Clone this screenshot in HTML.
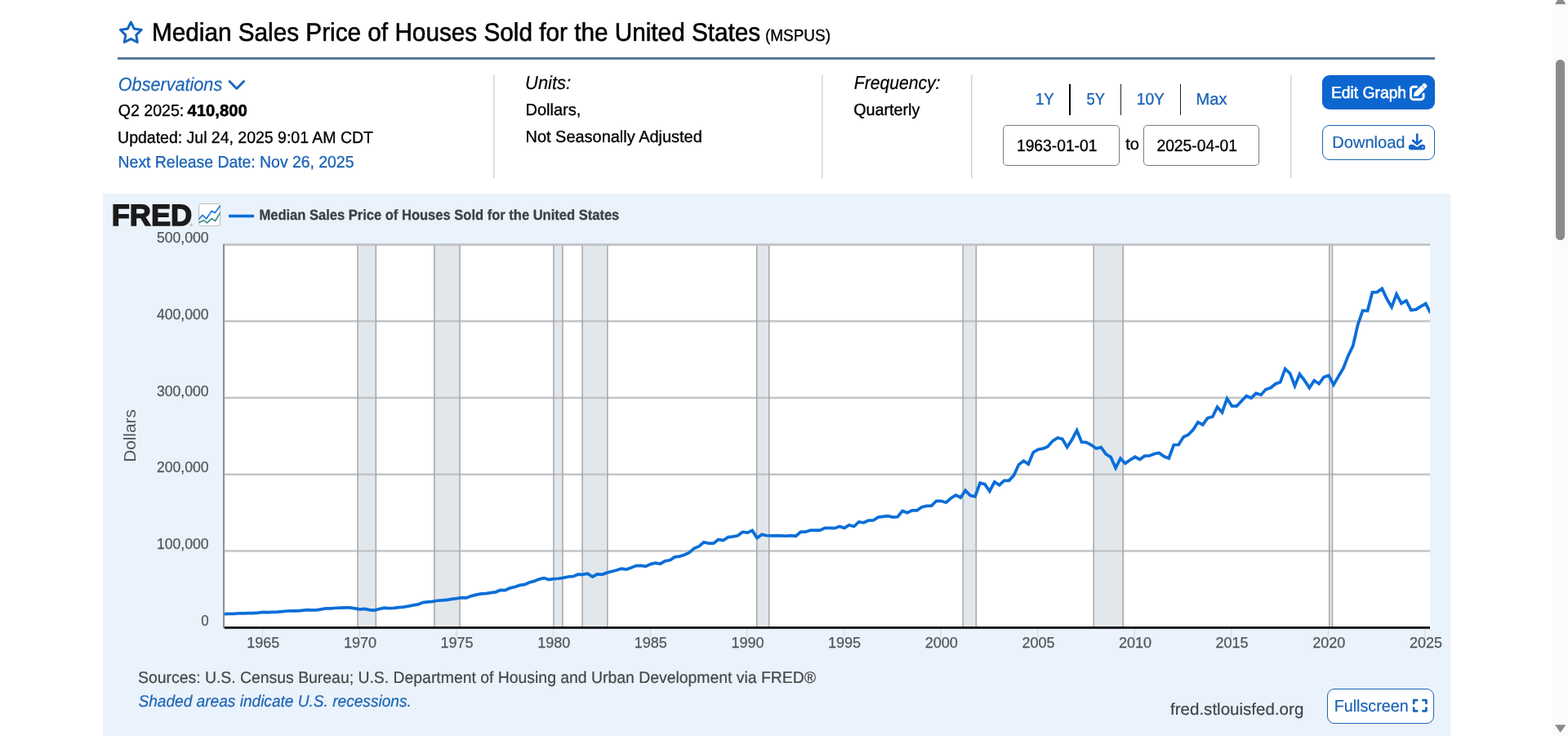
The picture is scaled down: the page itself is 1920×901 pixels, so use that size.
<!DOCTYPE html>
<html lang="en"><head><meta charset="utf-8"><title>Median Sales Price of Houses Sold for the United States (MSPUS) | FRED | St. Louis Fed</title>
<style>
html,body{margin:0;padding:0;}
body{width:1920px;height:901px;overflow:hidden;background:#fff;font-family:"Liberation Sans", sans-serif;position:relative;}
.t{position:absolute;left:0;top:0;white-space:nowrap;transform-origin:0 0;display:block;text-rendering:geometricPrecision;}
.abs{position:absolute;box-sizing:border-box;}
.vr{position:absolute;top:92px;height:126px;width:2px;background:linear-gradient(to right,#c8d6d8 50%,#e3ebec 50%);}
.sep{position:absolute;top:103px;height:38px;width:0;border-left:1.4px solid #222;}
</style></head><body>
<main>
<header id="series-header">
<svg style="position:absolute;left:144px;top:24px" width="33" height="32" viewBox="0 0 33 32"><path d="M16.30 3.15 L20.30 11.25 L29.23 12.55 L22.77 18.85 L24.29 27.75 L16.30 23.55 L8.31 27.75 L9.83 18.85 L3.37 12.55 L12.30 11.25 Z" fill="none" stroke="#1565c0" stroke-width="3" stroke-linejoin="round"/></svg>
<h1 style="margin:0;font-weight:normal;font-size:inherit"><span class="t" style="font-size:31.24px;line-height:37px;color:#000;transform:translate(185.95px,21.0px) scale(0.9518,1);-webkit-text-stroke:0.58px #000;">Median Sales Price of Houses Sold for the United States</span><span class="t" style="font-size:20.20px;line-height:24px;color:#000;transform:translate(937.04px,31.5px) scale(0.9374,1);-webkit-text-stroke:0.34px #000;">(MSPUS)</span></h1>
<div class="abs" style="left:144px;top:70px;width:1613px;height:3px;background:#587a98"></div>
</header>
<section id="series-meta">
<a><span class="t" style="font-size:22.96px;line-height:28px;color:#1c64b6;transform:translate(144.77px,89.0px) scale(0.9424,1);font-style:italic;-webkit-text-stroke:0.21px #1c64b6;">Observations</span></a><svg style="position:absolute;left:277px;top:95px" width="26" height="18" viewBox="0 0 26 18"><path d="M4 4.6 L12.8 13.4 L21.6 4.6" fill="none" stroke="#1b66b9" stroke-width="2.8" stroke-linecap="round" stroke-linejoin="round"/></svg>
<span class="t" style="font-size:20.20px;line-height:24px;color:#000;transform:translate(144.79px,124.0px) scale(0.9686,1);-webkit-text-stroke:0.33px #000;">Q2 2025:</span>
<span class="t" style="font-size:19.94px;line-height:24px;color:#000;transform:translate(229.55px,124.0px) scale(1.0156,1);font-weight:bold;-webkit-text-stroke:0.49px #000;">410,800</span>
<span class="t" style="font-size:20.20px;line-height:24px;color:#000;transform:translate(144.11px,156.75px) scale(0.9647,1);-webkit-text-stroke:0.33px #000;">Updated: Jul 24, 2025 9:01 AM CDT</span>
<span class="t" style="font-size:20.20px;line-height:24px;color:#1c64b6;transform:translate(144.62px,187.0px) scale(0.9603,1);-webkit-text-stroke:0.33px #1c64b6;">Next Release Date: Nov 26, 2025</span>
<span class="t" style="font-size:22.96px;line-height:28px;color:#000;transform:translate(643.08px,87.0px) scale(0.9534,1);font-style:italic;-webkit-text-stroke:0.21px #000;">Units:</span>
<span class="t" style="font-size:20.20px;line-height:24px;color:#000;transform:translate(643.47px,123.0px) scale(0.9918,1);-webkit-text-stroke:0.32px #000;">Dollars,</span>
<span class="t" style="font-size:20.20px;line-height:24px;color:#000;transform:translate(643.48px,156.0px) scale(0.9885,1);-webkit-text-stroke:0.32px #000;">Not Seasonally Adjusted</span>
<span class="t" style="font-size:22.96px;line-height:28px;color:#000;transform:translate(1045.76px,87.0px) scale(0.9207,1);font-style:italic;-webkit-text-stroke:0.22px #000;">Frequency:</span>
<span class="t" style="font-size:20.20px;line-height:24px;color:#000;transform:translate(1045.28px,123.0px) scale(0.9757,1);-webkit-text-stroke:0.33px #000;">Quarterly</span>
<div class="vr" style="left:604px"></div>
<div class="vr" style="left:1006px"></div>
<div class="vr" style="left:1189px"></div>
<div class="vr" style="left:1580px"></div>
<nav>
<a><span class="t" style="font-size:20.20px;line-height:24px;color:#1c64b6;transform:translate(1267.98px,110.0px) scale(0.9188,1);-webkit-text-stroke:0.35px #1c64b6;">1Y</span></a>
<a><span class="t" style="font-size:20.20px;line-height:24px;color:#1c64b6;transform:translate(1330.53px,110.0px) scale(0.9084,1);-webkit-text-stroke:0.35px #1c64b6;">5Y</span></a>
<a><span class="t" style="font-size:20.20px;line-height:24px;color:#1c64b6;transform:translate(1391.73px,110.0px) scale(0.9519,1);-webkit-text-stroke:0.34px #1c64b6;">10Y</span></a>
<a><span class="t" style="font-size:20.20px;line-height:24px;color:#1c64b6;transform:translate(1464.57px,110.0px) scale(0.9950,1);-webkit-text-stroke:0.32px #1c64b6;">Max</span></a>
<div class="sep" style="left:1309px;border-left-width:2.4px;border-color:#000"></div>
<div class="sep" style="left:1372px"></div>
<div class="sep" style="left:1445px"></div>
</nav>
<div class="abs" style="left:1228px;top:153px;width:143px;height:50px;border:1.3px solid #7e7e7e;border-radius:5px;background:#fff"></div>
<div class="abs" style="left:1400px;top:153px;width:142px;height:50px;border:1.3px solid #7e7e7e;border-radius:5px;background:#fff"></div>
<span class="t" style="font-size:20.20px;line-height:24px;color:#000;transform:translate(1244.93px,167.0px) scale(0.9542,1);-webkit-text-stroke:0.34px #000;">1963-01-01</span><span class="t" style="font-size:20.20px;line-height:24px;color:#000;transform:translate(1378.26px,164.5px) scale(0.9916,1);-webkit-text-stroke:0.32px #000;">to</span><span class="t" style="font-size:20.20px;line-height:24px;color:#000;transform:translate(1416.40px,167.0px) scale(0.9554,1);-webkit-text-stroke:0.33px #000;">2025-04-01</span>
<div class="abs" style="left:1619px;top:92px;width:138px;height:42px;border-radius:9px;background:#0c66cf"></div>
<span class="t" style="font-size:19.94px;line-height:24px;color:#fff;transform:translate(1629.90px,102.0px) scale(0.9672,1);-webkit-text-stroke:0.52px #fff;">Edit Graph</span><svg style="position:absolute;left:1725px;top:101px" width="26" height="26" viewBox="0 0 26 26"><path d="M9.6 5.2 H5.5 a3 3 0 0 0 -3 3 V17.7 a3 3 0 0 0 3 3 H15.1 a3 3 0 0 0 3 -3 V14.1" fill="none" stroke="#fff" stroke-width="2.9" stroke-linecap="round"/><path d="M6.22 16.69 L7.21 12.16 L15.34 4.03 L19.45 8.13 L11.31 16.26 Z" fill="#fff" stroke="#fff" stroke-width="0.6" stroke-linejoin="round"/><path d="M15.84 3.54 L18.10 1.27 L18.95 0.85 L19.94 1.13 L22.34 3.54 L22.63 4.53 L22.20 5.37 L19.94 7.64 Z" fill="#fff"/></svg>
<div class="abs" style="left:1619px;top:153px;width:138px;height:42.5px;border-radius:9px;background:#fff;border:1.3px solid #1c64b6"></div>
<span class="t" style="font-size:20.38px;line-height:24px;color:#1c64b6;transform:translate(1631.22px,163.0px) scale(0.9865,1);-webkit-text-stroke:0.20px #1c64b6;">Download</span><svg style="position:absolute;left:1724px;top:162px" width="24" height="23" viewBox="0 0 24 23"><path d="M11.2 2.6 V13.6 M6.1 9.9 L11.2 14.6 L16.3 9.9" fill="none" stroke="#1166cc" stroke-width="2.7" stroke-linecap="round" stroke-linejoin="round"/><path d="M3.4 15 H6.4 L11.2 18 L16 15 H18.6 a2.5 2.5 0 0 1 2.5 2.5 v1.4 a2.5 2.5 0 0 1 -2.5 2.5 H3.4 a2.5 2.5 0 0 1 -2.5 -2.5 v-1.4 a2.5 2.5 0 0 1 2.5 -2.5 z" fill="#1166cc"/><circle cx="18" cy="18.3" r="0.85" fill="#fff"/></svg>
</section>
<section id="graph">
<svg class="chart" width="1650" height="664" viewBox="126 237 1650 664" style="position:absolute;left:126px;top:237px;font-family:&quot;Liberation Sans&quot;, sans-serif">
<rect x="126" y="237" width="1650" height="664" fill="#eaf2fb"/>
<rect x="274.0" y="299.50" width="1477.0" height="468.75" fill="#fff"/>
<rect x="438.00" y="299.50" width="22.30" height="468.75" fill="#e2e7ec"/>
<rect x="531.85" y="299.50" width="31.15" height="468.75" fill="#e2e7ec"/>
<rect x="677.90" y="299.50" width="11.05" height="468.75" fill="#e2e7ec"/>
<rect x="713.05" y="299.50" width="30.80" height="468.75" fill="#e2e7ec"/>
<rect x="926.70" y="299.50" width="15.00" height="468.75" fill="#e2e7ec"/>
<rect x="1179.20" y="299.50" width="16.10" height="468.75" fill="#e2e7ec"/>
<rect x="1339.20" y="299.50" width="36.00" height="468.75" fill="#e2e7ec"/>
<rect x="1627.70" y="299.50" width="3.80" height="468.75" fill="#e2e7ec"/>
<line x1="274.0" x2="1751.0" y1="674.50" y2="674.50" stroke="#c3c4c6" stroke-width="2.5"/>
<line x1="274.0" x2="1751.0" y1="580.75" y2="580.75" stroke="#c3c4c6" stroke-width="2.5"/>
<line x1="274.0" x2="1751.0" y1="487.00" y2="487.00" stroke="#c3c4c6" stroke-width="2.5"/>
<line x1="274.0" x2="1751.0" y1="393.25" y2="393.25" stroke="#c3c4c6" stroke-width="2.5"/>
<rect x="273.0" y="298" width="1478.0" height="3" fill="#c4c6c9"/>
<line x1="438.00" x2="438.00" y1="300.50" y2="768.25" stroke="#a4a6a9" stroke-width="1.5"/>
<line x1="460.30" x2="460.30" y1="300.50" y2="768.25" stroke="#a4a6a9" stroke-width="1.5"/>
<line x1="531.85" x2="531.85" y1="300.50" y2="768.25" stroke="#a4a6a9" stroke-width="1.5"/>
<line x1="563.00" x2="563.00" y1="300.50" y2="768.25" stroke="#a4a6a9" stroke-width="1.5"/>
<line x1="677.90" x2="677.90" y1="300.50" y2="768.25" stroke="#a4a6a9" stroke-width="1.5"/>
<line x1="688.95" x2="688.95" y1="300.50" y2="768.25" stroke="#a4a6a9" stroke-width="1.5"/>
<line x1="713.05" x2="713.05" y1="300.50" y2="768.25" stroke="#a4a6a9" stroke-width="1.5"/>
<line x1="743.85" x2="743.85" y1="300.50" y2="768.25" stroke="#a4a6a9" stroke-width="1.5"/>
<line x1="926.70" x2="926.70" y1="300.50" y2="768.25" stroke="#a4a6a9" stroke-width="1.5"/>
<line x1="941.70" x2="941.70" y1="300.50" y2="768.25" stroke="#a4a6a9" stroke-width="1.5"/>
<line x1="1179.20" x2="1179.20" y1="300.50" y2="768.25" stroke="#a4a6a9" stroke-width="1.5"/>
<line x1="1195.30" x2="1195.30" y1="300.50" y2="768.25" stroke="#a4a6a9" stroke-width="1.5"/>
<line x1="1339.20" x2="1339.20" y1="300.50" y2="768.25" stroke="#a4a6a9" stroke-width="1.5"/>
<line x1="1375.20" x2="1375.20" y1="300.50" y2="768.25" stroke="#a4a6a9" stroke-width="1.5"/>
<line x1="1627.70" x2="1627.70" y1="300.50" y2="768.25" stroke="#a4a6a9" stroke-width="1.5"/>
<line x1="1631.50" x2="1631.50" y1="300.50" y2="768.25" stroke="#a4a6a9" stroke-width="1.5"/>
<line x1="321.49" x2="321.49" y1="768.25" y2="780.25" stroke="#d3dbe6" stroke-width="1.25"/>
<line x1="440.11" x2="440.11" y1="768.25" y2="780.25" stroke="#d3dbe6" stroke-width="1.25"/>
<line x1="558.73" x2="558.73" y1="768.25" y2="780.25" stroke="#d3dbe6" stroke-width="1.25"/>
<line x1="677.36" x2="677.36" y1="768.25" y2="780.25" stroke="#d3dbe6" stroke-width="1.25"/>
<line x1="796.04" x2="796.04" y1="768.25" y2="780.25" stroke="#d3dbe6" stroke-width="1.25"/>
<line x1="914.67" x2="914.67" y1="768.25" y2="780.25" stroke="#d3dbe6" stroke-width="1.25"/>
<line x1="1033.29" x2="1033.29" y1="768.25" y2="780.25" stroke="#d3dbe6" stroke-width="1.25"/>
<line x1="1151.91" x2="1151.91" y1="768.25" y2="780.25" stroke="#d3dbe6" stroke-width="1.25"/>
<line x1="1270.60" x2="1270.60" y1="768.25" y2="780.25" stroke="#d3dbe6" stroke-width="1.25"/>
<line x1="1389.22" x2="1389.22" y1="768.25" y2="780.25" stroke="#d3dbe6" stroke-width="1.25"/>
<line x1="1507.84" x2="1507.84" y1="768.25" y2="780.25" stroke="#d3dbe6" stroke-width="1.25"/>
<line x1="1626.47" x2="1626.47" y1="768.25" y2="780.25" stroke="#d3dbe6" stroke-width="1.25"/>
<line x1="1745.15" x2="1745.15" y1="768.25" y2="780.25" stroke="#d3dbe6" stroke-width="1.25"/>
<clipPath id="plotclip"><rect x="274.0" y="290" width="1477.0" height="480"/></clipPath>
<polyline clip-path="url(#plotclip)" points="274.60,751.56 280.45,751.38 286.36,751.47 292.33,750.91 298.31,750.91 304.22,750.53 310.13,750.53 316.11,750.06 322.09,749.31 327.93,749.69 333.85,749.31 339.82,749.22 345.80,748.56 351.65,748.00 357.56,747.91 363.53,747.91 369.51,747.34 375.36,746.69 381.27,746.97 387.25,746.78 393.22,745.84 399.13,744.91 405.05,744.81 411.02,744.25 417.00,744.16 422.85,743.97 428.76,743.97 434.73,744.91 440.71,745.84 446.56,745.38 452.47,746.69 458.45,747.06 464.42,745.47 470.27,744.06 476.18,744.53 482.16,744.34 488.13,743.69 494.05,743.12 499.96,742.09 505.93,740.88 511.91,739.94 517.76,737.59 523.67,736.84 529.64,736.38 535.62,735.25 541.47,734.88 547.38,734.31 553.36,733.28 559.33,732.53 565.18,731.69 571.09,731.88 577.07,729.62 583.04,728.12 588.96,726.81 594.87,726.62 600.84,725.59 606.82,724.84 612.67,722.41 618.58,722.50 624.56,719.88 630.53,718.56 636.38,716.41 642.29,715.66 648.27,712.94 654.24,711.44 660.09,709.09 666.00,707.59 671.98,709.56 677.96,708.53 683.87,708.25 689.78,707.41 695.76,706.00 701.73,705.62 707.58,703.19 713.49,703.38 719.47,702.25 725.44,706.00 731.29,703.00 737.20,703.28 743.18,701.12 749.16,699.53 755.00,698.03 760.91,696.06 766.89,697.09 772.87,694.94 778.78,692.59 784.69,692.31 790.67,693.34 796.64,690.62 802.49,689.22 808.40,690.25 814.38,686.88 820.35,685.75 826.20,681.91 832.11,681.06 838.09,679.19 844.07,676.47 849.91,671.31 855.82,668.88 861.80,663.72 867.78,665.12 873.69,665.12 879.60,660.44 885.58,661.47 891.55,657.62 897.40,656.78 903.31,655.75 909.29,651.25 915.27,652.09 921.11,649.38 927.02,658.56 933.00,654.34 938.98,655.75 944.82,655.84 950.74,655.75 956.71,655.84 962.69,656.22 968.60,655.75 974.51,656.22 980.49,651.06 986.47,651.06 992.31,649.19 998.22,649.19 1004.20,649.19 1010.18,646.38 1016.02,646.38 1021.93,646.66 1027.91,644.50 1033.89,646.38 1039.73,642.72 1045.65,644.50 1051.62,638.88 1057.60,639.81 1063.51,637.09 1069.42,637.00 1075.40,633.16 1081.38,632.31 1087.22,631.56 1093.13,633.06 1099.11,632.78 1105.09,625.56 1110.93,627.72 1116.85,624.81 1122.82,624.81 1128.80,620.69 1134.65,619.47 1140.56,619.09 1146.53,613.28 1152.51,613.28 1158.42,615.25 1164.33,610.00 1170.31,606.16 1176.29,609.06 1182.13,600.44 1188.05,606.53 1194.02,607.84 1200.00,591.34 1205.85,592.75 1211.76,601.28 1217.73,590.03 1223.71,593.88 1229.56,588.44 1235.47,588.34 1241.45,581.88 1247.42,568.84 1253.33,564.25 1259.25,568.09 1265.22,553.75 1271.20,550.28 1277.04,549.16 1282.96,546.62 1288.93,539.88 1294.91,536.03 1300.76,537.34 1306.67,547.38 1312.64,538.19 1318.62,526.94 1324.47,541.19 1330.38,541.56 1336.36,544.75 1342.33,548.97 1348.24,547.66 1354.16,555.91 1360.13,559.66 1366.11,572.88 1371.96,561.16 1377.87,567.34 1383.84,562.94 1389.82,559.28 1395.67,562.47 1401.58,558.16 1407.56,557.97 1413.53,555.53 1419.38,554.41 1425.29,558.72 1431.27,560.97 1437.24,544.75 1443.16,544.47 1449.07,535.00 1455.04,532.28 1461.02,526.00 1466.87,516.91 1472.78,520.00 1478.76,511.75 1484.73,510.25 1490.58,498.25 1496.49,504.81 1502.47,488.03 1508.44,497.12 1514.29,497.22 1520.20,490.94 1526.18,484.66 1532.15,487.19 1538.07,481.38 1543.98,483.44 1549.95,476.78 1555.93,474.72 1561.78,469.94 1567.69,467.78 1573.67,451.47 1579.64,457.19 1585.49,472.38 1591.40,458.03 1597.38,465.62 1603.35,474.81 1609.20,465.91 1615.11,469.75 1621.09,461.59 1627.07,459.81 1632.98,470.97 1638.89,460.84 1644.87,450.81 1650.84,435.44 1656.69,423.44 1662.60,397.75 1668.58,380.13 1674.55,380.59 1680.40,357.91 1686.31,357.62 1692.29,353.31 1698.27,366.06 1704.11,375.91 1710.02,360.06 1716.00,371.50 1721.98,368.12 1727.89,379.66 1733.80,378.91 1739.78,375.16 1745.75,371.59 1751.60,383.13" fill="none" stroke="#0b6ed8" stroke-width="3.75" stroke-linejoin="miter" stroke-miterlimit="4" stroke-linecap="butt"/>
<line x1="274.8" x2="1751.0" y1="768.35" y2="768.35" stroke="#000" stroke-width="2.6"/>
<line x1="274.0" x2="274.0" y1="299.00" y2="769.35" stroke="#8c8e8f" stroke-width="2"/>
<line x1="280" x2="311" y1="264.5" y2="264.5" stroke="#0b6ed8" stroke-width="3.6"/>
<text x="246.2" y="766.0" textLength="9.4" lengthAdjust="spacingAndGlyphs" font-size="18" fill="#51565b" stroke="#51565b" stroke-width="0.25">0</text>
<text x="192.0" y="672.2" textLength="63.6" lengthAdjust="spacingAndGlyphs" font-size="18" fill="#51565b" stroke="#51565b" stroke-width="0.25">100,000</text>
<text x="192.0" y="577.6" textLength="63.6" lengthAdjust="spacingAndGlyphs" font-size="18" fill="#51565b" stroke="#51565b" stroke-width="0.25">200,000</text>
<text x="192.0" y="484.7" textLength="63.6" lengthAdjust="spacingAndGlyphs" font-size="18" fill="#51565b" stroke="#51565b" stroke-width="0.25">300,000</text>
<text x="192.0" y="390.9" textLength="63.6" lengthAdjust="spacingAndGlyphs" font-size="18" fill="#51565b" stroke="#51565b" stroke-width="0.25">400,000</text>
<text x="192.0" y="297.2" textLength="63.6" lengthAdjust="spacingAndGlyphs" font-size="18" fill="#51565b" stroke="#51565b" stroke-width="0.25">500,000</text>
<text x="322.3" y="793.3" text-anchor="middle" font-size="18" fill="#51565b" stroke="#51565b" stroke-width="0.25">1965</text>
<text x="440.9" y="793.3" text-anchor="middle" font-size="18" fill="#51565b" stroke="#51565b" stroke-width="0.25">1970</text>
<text x="559.5" y="793.3" text-anchor="middle" font-size="18" fill="#51565b" stroke="#51565b" stroke-width="0.25">1975</text>
<text x="678.2" y="793.3" text-anchor="middle" font-size="18" fill="#51565b" stroke="#51565b" stroke-width="0.25">1980</text>
<text x="796.8" y="793.3" text-anchor="middle" font-size="18" fill="#51565b" stroke="#51565b" stroke-width="0.25">1985</text>
<text x="915.5" y="793.3" text-anchor="middle" font-size="18" fill="#51565b" stroke="#51565b" stroke-width="0.25">1990</text>
<text x="1034.1" y="793.3" text-anchor="middle" font-size="18" fill="#51565b" stroke="#51565b" stroke-width="0.25">1995</text>
<text x="1152.7" y="793.3" text-anchor="middle" font-size="18" fill="#51565b" stroke="#51565b" stroke-width="0.25">2000</text>
<text x="1271.4" y="793.3" text-anchor="middle" font-size="18" fill="#51565b" stroke="#51565b" stroke-width="0.25">2005</text>
<text x="1390.0" y="793.3" text-anchor="middle" font-size="18" fill="#51565b" stroke="#51565b" stroke-width="0.25">2010</text>
<text x="1508.6" y="793.3" text-anchor="middle" font-size="18" fill="#51565b" stroke="#51565b" stroke-width="0.25">2015</text>
<text x="1627.3" y="793.3" text-anchor="middle" font-size="18" fill="#51565b" stroke="#51565b" stroke-width="0.25">2020</text>
<text x="1746.0" y="793.3" text-anchor="middle" font-size="18" fill="#51565b" stroke="#51565b" stroke-width="0.25">2025</text>
<text transform="translate(166.2,533.5) rotate(-90)" text-anchor="middle" font-size="20.8" fill="#51565b">Dollars</text>
</svg>
<span class="t" style="font-size:36.60px;line-height:44px;color:#1c1a1a;transform:translate(136.69px,242.0px) scale(0.9888,1);font-weight:bold;-webkit-text-stroke:1.52px #1c1a1a;">FRED</span><span class="t" style="font-size:4.60px;line-height:6px;color:#6b6b6b;transform:translate(232.40px,273.0px) scale(0.9412,1);">®</span>
<svg style="position:absolute;left:243px;top:249px" width="28" height="29" viewBox="0 0 28 29"><rect x="0.6" y="0.5" width="26" height="26.9" rx="2.6" fill="#fff" stroke="#b9bbbf" stroke-width="1"/><path d="M0.6 19.4 L5 14.3 L9.7 18.9 L16.1 9.2 L20.3 11.6 L26.6 2.9" fill="none" stroke="#2478d4" stroke-width="1.7" stroke-linejoin="round"/><path d="M0.6 23.5 L6.5 20.7 L10.5 23.8 L16.3 18.7 L20.5 21.6 L26.6 11.5" fill="none" stroke="#338e80" stroke-width="1.6" stroke-linejoin="round"/></svg>
<span class="t" style="font-size:17.65px;line-height:21px;color:#3d4145;transform:translate(317.42px,252.5px) scale(0.9370,1);font-weight:bold;-webkit-text-stroke:0.32px #3d4145;">Median Sales Price of Houses Sold for the United States</span>
<span class="t" style="font-size:19.86px;line-height:24px;color:#444648;transform:translate(169.02px,818.0px) scale(0.9763,1);-webkit-text-stroke:0.20px #444648;">Sources: U.S. Census Bureau; U.S. Department of Housing and Urban Development via FRED®</span>
<span class="t" style="font-size:19.86px;line-height:24px;color:#1c64b6;transform:translate(169.42px,846.5px) scale(0.9616,1);font-style:italic;-webkit-text-stroke:0.21px #1c64b6;">Shaded areas indicate U.S. recessions.</span>
<span class="t" style="font-size:20.38px;line-height:24px;color:#41464c;transform:translate(1433.00px,857.0px) scale(1.0091,1);-webkit-text-stroke:0.20px #41464c;">fred.stlouisfed.org</span>
<div class="abs" style="left:1625.3px;top:843px;width:130.4px;height:42.7px;border-radius:9px;background:#fff;border:1.3px solid #1c64b6"></div>
<span class="t" style="font-size:20.38px;line-height:24px;color:#1c64b6;transform:translate(1633.65px,853.0px) scale(0.9686,1);-webkit-text-stroke:0.21px #1c64b6;">Fullscreen</span><svg style="position:absolute;left:1729px;top:855px" width="20" height="18" viewBox="0 0 20 18"><path d="M2.2 6 V2.2 H6.2 M13.4 2.2 H17.4 V6 M17.4 11.6 V15.4 H13.4 M6.2 15.4 H2.2 V11.6" fill="none" stroke="#1b66b9" stroke-width="2.7" stroke-linecap="round" stroke-linejoin="round"/></svg>
</section>
<div class="abs" style="left:1901px;top:0;width:19px;height:901px;background:#fbfbfb"></div>
<div class="abs" style="left:1905px;top:72.8px;width:11px;height:221.5px;border-radius:5.5px;background:#8b8b8b"></div>
<svg style="position:absolute;left:1901px;top:0" width="19" height="901" viewBox="0 0 19 901"><path d="M4.2 4.5 L15.2 4.5 L9.7 -3.6 Z" fill="#8b8b8b" stroke="#8b8b8b" stroke-width="1.5" stroke-linejoin="round"/><path d="M4.2 887.9 L15.2 887.9 L9.7 895.6 Z" fill="#8b8b8b" stroke="#8b8b8b" stroke-width="1.5" stroke-linejoin="round"/></svg>
</main></body></html>
